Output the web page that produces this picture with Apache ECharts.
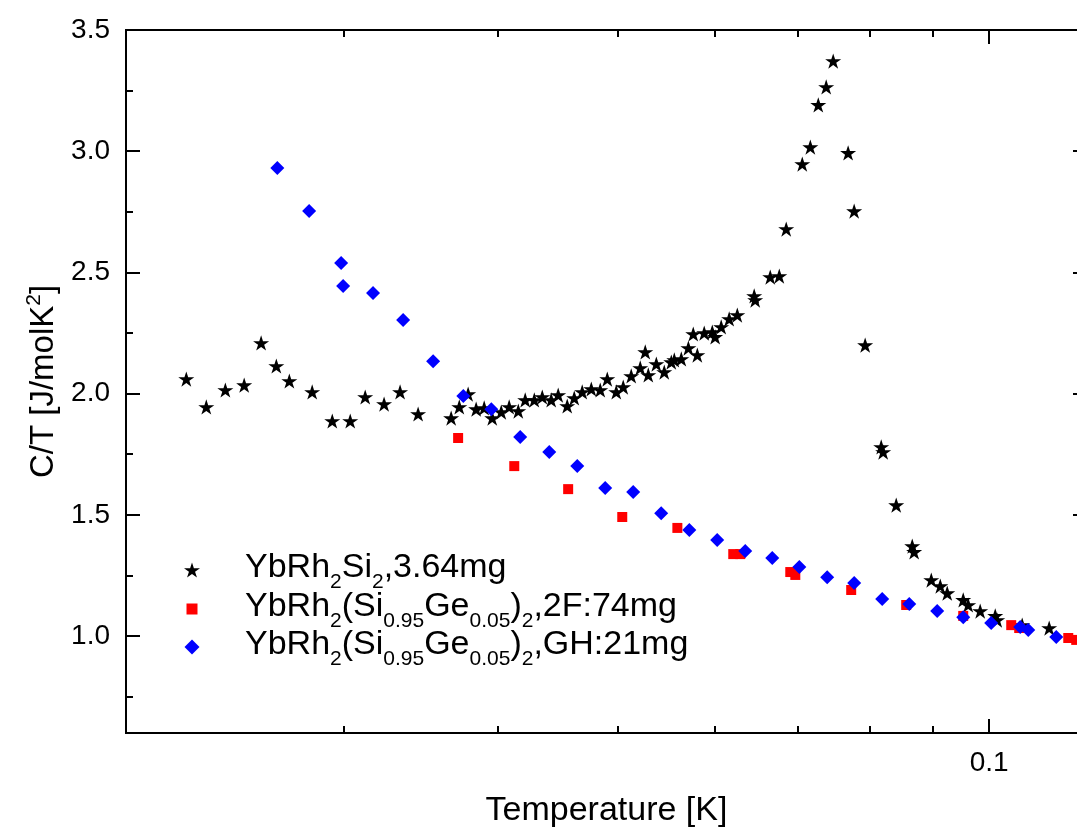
<!DOCTYPE html>
<html><head><meta charset="utf-8">
<script src="https://cdn.jsdelivr.net/npm/echarts@6/dist/echarts.min.js"></script>
<style>html,body{margin:0;padding:0;background:#fff}#c{width:1077px;height:832px}</style>
</head><body><div id="c"></div>
<script>
const FONT = 'Liberation Sans, Arial, Helvetica, sans-serif';

// ---- data (T in K, C/T in J/molK^2) ----
const starT = [0.02238,0.02323,0.02407,0.02493,0.02573,0.02647,0.02712,0.02830,0.02938,0.03038,
  0.03124,0.03236,0.03334,0.03448,0.03667,0.03723,0.03785,0.03842,0.03900,0.03959,
  0.04026,0.04086,0.04156,0.04210,0.04282,0.04346,0.04419,0.04477,0.04553,0.04613,
  0.04682,0.04762,0.04842,0.04906,0.04989,0.05054,0.05130,0.05217,0.05266,0.05296,
  0.05376,0.05456,0.05528,0.05559,0.05632,0.05707,0.05803,0.05759,0.05878,0.05967,
  0.05999,0.06067,0.06158,0.06252,0.06452,0.06464,0.06648,0.06761,0.06849,0.07057,
  0.07164,0.07271,0.07379,0.07476,0.07687,0.07774,0.07935,0.08176,0.08206,0.08408,
  0.08663,0.08694,0.08976,0.09128,0.09247,0.09527,0.09616,0.09833,0.10113,0.10150,
  0.10634,0.11183];
const starC = [2.060,1.945,2.015,2.035,2.209,2.114,2.052,2.007,1.887,1.887,
  1.986,1.957,2.007,1.916,1.899,1.945,1.998,1.936,1.941,1.899,
  1.924,1.945,1.928,1.974,1.974,1.986,1.974,1.994,1.949,1.982,
  2.007,2.019,2.015,2.060,2.007,2.027,2.073,2.106,2.172,2.077,
  2.122,2.089,2.130,2.139,2.143,2.188,2.159,2.246,2.250,2.254,
  2.234,2.275,2.308,2.324,2.403,2.386,2.481,2.485,2.679,2.947,
  3.017,3.191,3.265,3.372,2.993,2.753,2.200,1.780,1.759,1.540,
  1.371,1.347,1.231,1.206,1.177,1.149,1.128,1.103,1.083,1.066,
  1.045,1.033];
const redT = [0.03715,0.04125,0.04561,0.05045,0.05591,0.06205,0.06287,0.06901,0.06966,0.07731,
  0.08566,0.09527,0.10419,0.10575,0.11588,0.11761];
const redC = [1.817,1.701,1.606,1.491,1.446,1.338,1.338,1.264,1.252,1.190,
  1.128,1.083,1.045,1.033,0.992,0.984];
const blueT = [0.02652,0.02814,0.02987,0.02998,0.03170,0.03353,0.03546,0.03751,0.03952,0.04171,
  0.04403,0.04639,0.04887,0.05149,0.05425,0.05717,0.06022,0.06345,0.06673,0.07018,
  0.07393,0.07774,0.08191,0.08615,0.09076,0.09527,0.10037,0.10595,0.10755,0.11331];
const blueC = [2.931,2.753,2.539,2.444,2.415,2.304,2.134,1.990,1.936,1.821,
  1.759,1.701,1.611,1.594,1.507,1.437,1.396,1.351,1.322,1.285,
  1.243,1.219,1.153,1.132,1.103,1.078,1.054,1.037,1.025,0.996];

const seriesNames = ['YbRh2Si2,3.64mg','YbRh2(Si0.95Ge0.05)2,2F:74mg','YbRh2(Si0.95Ge0.05)2,GH:21mg'];
const legendRich = {
  'YbRh2Si2,3.64mg': '{sp| }{m|YbRh}{s|2}{m|Si}{s|2}{m|,3.64mg}',
  'YbRh2(Si0.95Ge0.05)2,2F:74mg': '{sp| }{m|YbRh}{s|2}{m|(Si}{s|0.95}{m|Ge}{s|0.05}{m|)}{s|2}{m|,2F:74mg}',
  'YbRh2(Si0.95Ge0.05)2,GH:21mg': '{sp| }{m|YbRh}{s|2}{m|(Si}{s|0.95}{m|Ge}{s|0.05}{m|)}{s|2}{m|,GH:21mg}'
};
const xMinorTicks = [0.03,0.04,0.05,0.06,0.07,0.08,0.09];
const xMajorTicks = [0.1];
const xTickLabels = [0.1];
const yMajorTicks = [1.0,1.5,2.0,2.5,3.0,3.5];
const yMinorTicks = [0.75,1.25,1.75,2.25,2.75,3.25];

const zip = (a,b) => a.map((v,i)=>[v,b[i]]);
const STAR = 'path://M0,-10L2.245,-3.09L9.511,-3.09L3.633,1.18L5.878,8.09L0,3.82L-5.878,8.09L-3.633,1.18L-9.511,-3.09L-2.245,-3.09Z';

function xAx(pos, ticks, len, showLabel, extra) {
  return Object.assign({
    type: 'log', logBase: 10, min: 0.02, max: 0.12, position: pos, gridIndex: 0,
    axisLine: {show: true, onZero: false, lineStyle: {color: '#000', width: 2}},
    axisTick: {show: true, inside: true, length: len, customValues: ticks, lineStyle: {color: '#000', width: 2}},
    axisLabel: showLabel ? {show: true, customValues: xTickLabels, margin: 16, color: '#000', fontSize: 28, fontFamily: FONT, formatter: v => String(v)} : {show: false},
    splitLine: {show: false}, minorTick: {show: false}, minorSplitLine: {show: false}
  }, extra || {});
}
function yAx(pos, ticks, len, showLabel, extra) {
  return Object.assign({
    type: 'value', min: 0.6, max: 3.5, position: pos, gridIndex: 0,
    axisLine: {show: true, onZero: false, lineStyle: {color: '#000', width: 2}},
    axisTick: {show: true, inside: true, length: len, customValues: ticks, lineStyle: {color: '#000', width: 2}},
    axisLabel: showLabel ? {show: true, customValues: yMajorTicks, margin: 16, color: '#000', fontSize: 28, fontFamily: FONT, formatter: v => v.toFixed(1)} : {show: false},
    splitLine: {show: false}
  }, extra || {});
}

const iconSize = [16, 11, 15];
const legendTops = [551, 590, 628];
const legends = seriesNames.map((n, i) => ({
  data: [n], orient: 'vertical', left: 192 - iconSize[i] / 2, top: legendTops[i], padding: 0,
  itemWidth: iconSize[i], itemHeight: iconSize[i], selectedMode: false,
  formatter: name => legendRich[name],
  textStyle: {
    color: '#000', fontFamily: FONT,
    rich: {
      sp: {width: 245 - (192 + iconSize[i] / 2 + 5), fontSize: 34, lineHeight: 38, verticalAlign: 'top', fontFamily: FONT},
      m: {fontSize: 34, lineHeight: 38, verticalAlign: 'top', color: '#000', fontFamily: FONT},
      s: {fontSize: 21, lineHeight: 20, verticalAlign: 'top', padding: [21, 0, 0, 0], color: '#000', fontFamily: FONT}
    }
  }
}));

const chart = echarts.init(document.getElementById('c'), null, {renderer: 'canvas'});
chart.setOption({
  backgroundColor: '#fff',
  animation: false,
  grid: {left: 126, top: 30, width: 961, height: 703, outerBoundsMode: 'none', containLabel: false},
  legend: legends,
  xAxis: [
    xAx('bottom', xMinorTicks, 7, true, {
      name: 'Temperature [K]', nameLocation: 'middle', nameGap: 61,
      nameTextStyle: {color: '#000', fontSize: 34, fontFamily: FONT}
    }),
    xAx('bottom', xMajorTicks, 14, false),
    xAx('top', xMinorTicks, 7, false),
    xAx('top', xMajorTicks, 14, false)
  ],
  yAxis: [
    yAx('left', yMajorTicks, 14, true, {
      name: '{a|C/T [J/molK}{p|2}{a|]}', nameLocation: 'middle', nameGap: 66, nameRotate: 90,
      nameTextStyle: {
        color: '#000', fontFamily: FONT,
        rich: {
          a: {fontSize: 33, lineHeight: 35, verticalAlign: 'bottom', color: '#000', fontFamily: FONT},
          p: {fontSize: 21, lineHeight: 20, verticalAlign: 'bottom', padding: [0, 0, 15, 0], color: '#000', fontFamily: FONT}
        }
      }
    }),
    yAx('left', yMinorTicks, 7, false),
    yAx('right', yMajorTicks, 14, false),
    yAx('right', yMinorTicks, 7, false)
  ],
  series: [
    {name: seriesNames[0], type: 'scatter', xAxisIndex: 0, yAxisIndex: 0, data: zip(starT, starC),
      symbol: STAR, symbolSize: 16, symbolKeepAspect: true, itemStyle: {color: '#000', opacity: 1}, z: 2},
    {name: seriesNames[1], type: 'scatter', xAxisIndex: 0, yAxisIndex: 0, data: zip(redT, redC),
      symbol: 'rect', symbolSize: 10, itemStyle: {color: '#ff0000', opacity: 1}, z: 3},
    {name: seriesNames[2], type: 'scatter', xAxisIndex: 0, yAxisIndex: 0, data: zip(blueT, blueC),
      symbol: 'diamond', symbolSize: 14, itemStyle: {color: '#0000ff', opacity: 1}, z: 4}
  ]
});
</script></body></html>
